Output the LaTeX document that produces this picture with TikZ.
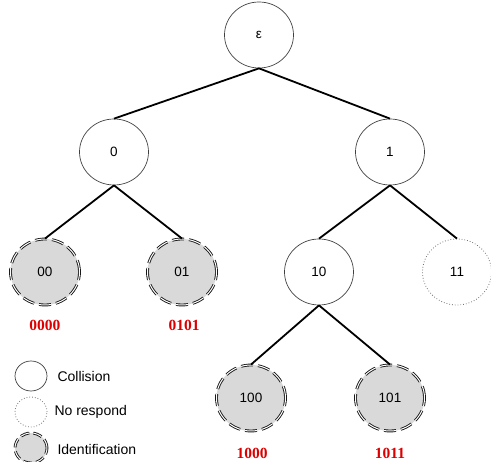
\documentclass[tikz,border=0pt]{standalone}
\usepackage{fontspec}
\setmainfont{Liberation Sans}
\newfontfamily\labelfont{Liberation Serif}
\usetikzlibrary{shapes.geometric}
\definecolor{idfill}{HTML}{D9D9D9}
\definecolor{idred}{HTML}{DD0000}
\tikzset{
  tnode/.style={ellipse, minimum width=69pt, minimum height=66pt, inner sep=0pt,
    font=\fontsize{13.5}{15}\selectfont},
  collision/.style={tnode, draw=black!75, line width=0.7pt},
  norespond/.style={tnode, draw=black!55, line width=0.8pt, dotted},
  ident/.style={tnode, fill=idfill, draw=black!90, line width=0.9pt, double=white,
    double distance=1pt, dash pattern=on 12pt off 5pt},
  small/.style={minimum width=32pt, minimum height=30pt},
  edge/.style={line width=1.8pt, black},
  code/.style={font=\labelfont\bfseries\fontsize{15.5}{17}\selectfont, text=idred},
  legtext/.style={anchor=west, font=\fontsize{14}{16}\selectfont}
}
\begin{document}
\begin{tikzpicture}[x=1pt, y=-1pt]
\useasboundingbox (0,0) rectangle (491,462);
% tree nodes
\node[collision] (e) at (259,35) {ε};
\node[collision] (n0) at (114,152) {0};
\node[collision] (n1) at (390,152) {1};
\node[ident] (n00) at (45,272) {00};
\node[ident] (n01) at (182,272) {01};
\node[collision] (n10) at (319,272) {10};
\node[norespond] (n11) at (457,272) {11};
\node[ident] (n100) at (251,398) {100};
\node[ident] (n101) at (390,398) {101};
% branches
\draw[edge] (e.south) -- (n0.north);
\draw[edge] (e.south) -- (n1.north);
\draw[edge] (n0.south) -- (n00.north);
\draw[edge] (n0.south) -- (n01.north);
\draw[edge] (n1.south) -- (n10.north);
\draw[edge] (n1.south) -- (n11.north);
\draw[edge] (n10.south) -- (n100.north);
\draw[edge] (n10.south) -- (n101.north);
% identified codes
\node[code] (c00) at (45,325) {0000};
\node[code] (c01) at (184,325) {0101};
\node[code] (c100) at (252,453) {1000};
\node[code] (c101) at (390,453) {1011};
% legend
\node[collision, small] (lc) at (31,376) {};
\node[legtext] (lct) at (54,376) {Collision};
\node[norespond, small] (ln) at (31,412) {};
\node[legtext] (lnt) at (51,412) {No respond};
\node[ident, small, dash pattern=on 9pt off 4pt] (li) at (31,448) {};
\node[legtext] (lit) at (54,449) {Identification};
\end{tikzpicture}
\end{document}
